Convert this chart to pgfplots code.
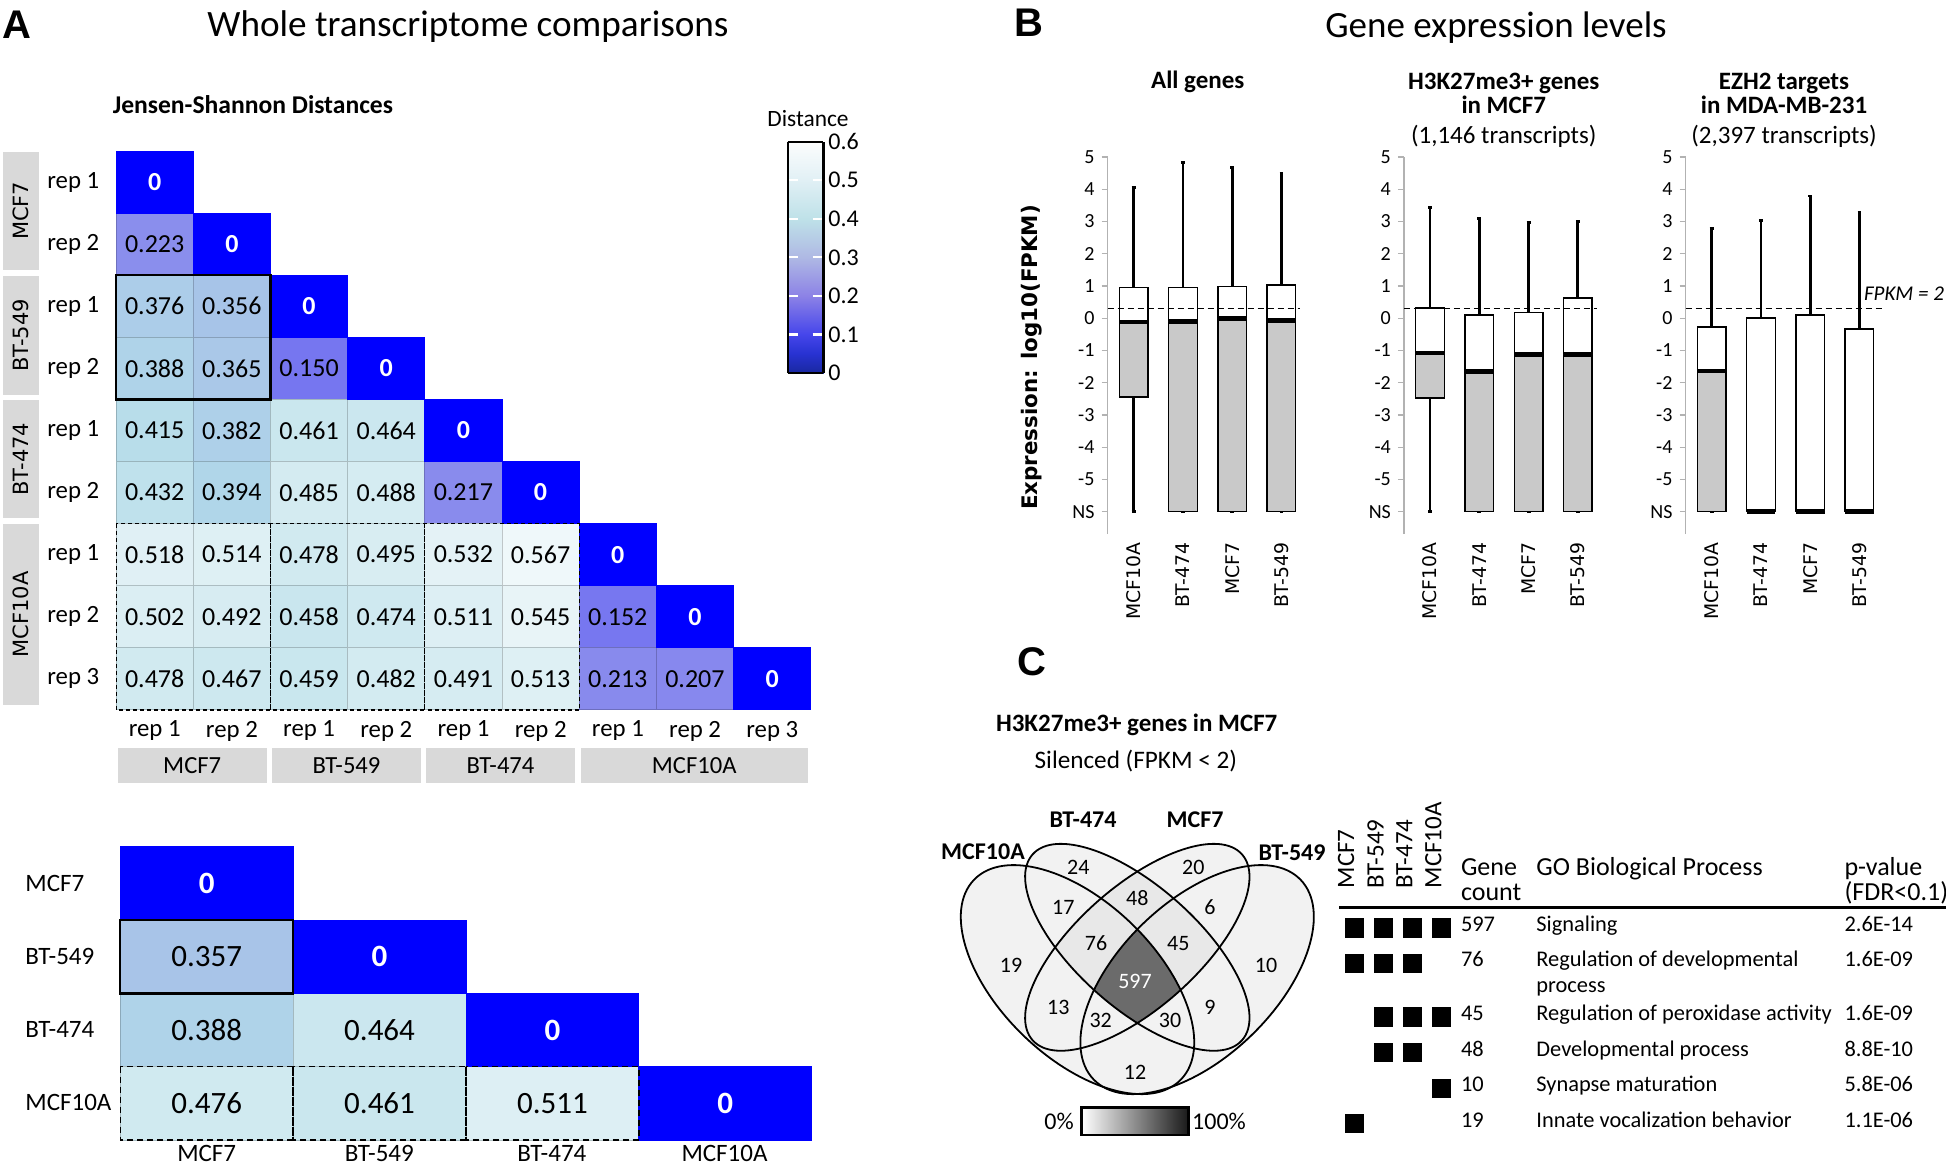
\documentclass[border=0pt]{standalone}
\usepackage{fontspec}
\setmainfont{Carlito}
\newfontfamily\dejavu{DejaVu Sans}
\newfontfamily\arialfont{Liberation Sans}
\usepackage{pgfplots}
\usepackage{pgfplotstable}
\pgfplotsset{compat=1.18}
\usepgfplotslibrary{statistics}
\newcommand{\fs}[1]{\fontsize{#1}{#1}\selectfont}

% Jensen-Shannon distances, replicates (column, row, value)
\pgfplotstableread{
c r v
1 2 0.223
1 3 0.376
2 3 0.356
1 4 0.388
2 4 0.365
3 4 0.150
1 5 0.415
2 5 0.382
3 5 0.461
4 5 0.464
1 6 0.432
2 6 0.394
3 6 0.485
4 6 0.488
5 6 0.217
1 7 0.518
2 7 0.514
3 7 0.478
4 7 0.495
5 7 0.532
6 7 0.567
1 8 0.502
2 8 0.492
3 8 0.458
4 8 0.474
5 8 0.511
6 8 0.545
7 8 0.152
1 9 0.478
2 9 0.467
3 9 0.459
4 9 0.482
5 9 0.491
6 9 0.513
7 9 0.213
8 9 0.207
}\hmrep
% cell lines
\pgfplotstableread{
c r v
1 2 0.357
1 3 0.388
2 3 0.464
1 4 0.476
2 4 0.461
3 4 0.511
}\hmcell

\pgfplotsset{
  colormap={cellmap}{rgb255=(0,0,255) rgb255=(39,39,250) rgb255=(79,79,245) rgb255=(118,118,240)
    rgb255=(133,133,238) rgb255=(144,152,236) rgb255=(155,170,234) rgb255=(166,193,232)
    rgb255=(178,217,233) rgb255=(198,229,237) rgb255=(218,238,243) rgb255=(234,245,248)
    rgb255=(250,253,253)},
  colormap={barmap}{rgb255(0pt)=(25,40,160); rgb255(50pt)=(40,50,210); rgb255(100pt)=(70,70,235);
    rgb255(200pt)=(140,130,230); rgb255(300pt)=(175,185,228); rgb255(400pt)=(190,225,232);
    rgb255(500pt)=(225,240,245); rgb255(600pt)=(252,253,253)},
  boxax/.style={anchor=north west, scale only axis, width=99.3pt, height=188.6pt,
    xmin=0.47, xmax=4.5, ymin=-6.7, ymax=5, axis lines*=left,
    x axis line style={draw=none}, y axis line style={draw=black!30, line width=0.8pt},
    ytick={-6,-5,-4,-3,-2,-1,0,1,2,3,4,5}, yticklabels={NS,-5,-4,-3,-2,-1,0,1,2,3,4,5},
    xtick={1,2,3,4}, xticklabels={MCF10A,BT-474,MCF7,BT-549},
    xticklabel style={rotate=90, anchor=east, font=\dejavu\fs{9.4}, inner sep=1pt},
    yticklabel style={font=\fs{10}},
    xtick style={draw=none}, ytick style={draw=black!30, line width=0.6pt},
    tick align=outside, major tick length=3pt, clip=false},
}
% one box: position, Q1, median, Q3, upper whisker, lower whisker
\newcommand{\bx}[6]{%
  \addplot[boxplot prepared={draw direction=y, draw position=#1, lower whisker=#6, lower quartile=#2,
      median=#3, upper quartile=#4, upper whisker=#5, box extend=0.58, whisker extend=0.08},
    draw=black, fill=white, line width=0.7pt,
    boxplot/every whisker/.style={line width=1.4pt},
    boxplot/every median/.style={line width=2.4pt}] coordinates {};
  \addplot[boxplot prepared={draw direction=y, draw position=#1, lower whisker=#2, lower quartile=#2,
      median=#3, upper quartile=#3, upper whisker=#3, box extend=0.58, whisker extend=0},
    draw=black, fill=gray!42, line width=0.7pt,
    boxplot/every median/.style={line width=2.4pt}] coordinates {};
}
\tikzset{T/.style={inner sep=0pt}}

\begin{document}
\begin{tikzpicture}
\useasboundingbox (0pt,0pt) rectangle (973pt,-583pt);

% ---------- heatmap, replicates ----------
\begin{axis}[at={(58.05pt,-75.5pt)}, anchor=north west, scale only axis,
  width=347.3pt, height=279.45pt, xmin=0.5, xmax=9.5, ymin=0.5, ymax=9.5,
  y dir=reverse, hide axis, clip=false, colormap name=cellmap,
  point meta min=0, point meta max=0.6]
\addplot[scatter, only marks, mark=square*, mark size=15.525pt,
  mark options={xscale=1.2432, line width=0.4pt},
  point meta=\thisrow{v}] table[x=c, y=r] {\hmrep};
\addplot[only marks, mark=square*, mark size=15.525pt,
  mark options={xscale=1.2432, line width=0.4pt, draw=blue, fill=blue}]
  coordinates {(1,1) (2,2) (3,3) (4,4) (5,5) (6,6) (7,7) (8,8) (9,9)};
\addplot[draw=none, mark=none, point meta=\thisrow{v},
  nodes near coords={\pgfmathprintnumber[fixed,fixed zerofill,precision=3,assume math mode=true]{\pgfplotspointmeta}},
  every node near coord/.append style={anchor=center, text=black, font=\fs{13}}]
  table[x=c, y=r] {\hmrep};
\addplot[draw=none, mark=none, nodes near coords={0},
  every node near coord/.append style={anchor=center, text=white, font=\bfseries\fs{13}}]
  coordinates {(1,1) (2,2) (3,3) (4,4) (5,5) (6,6) (7,7) (8,8) (9,9)};
\end{axis}

% ---------- colour bar ----------
\begin{axis}[at={(393.85pt,-70.85pt)}, anchor=north west, scale only axis,
  width=17.8pt, height=115.65pt, view={0}{90},
  xmin=0, xmax=1, ymin=0, ymax=0.6, colormap name=barmap,
  point meta min=0, point meta max=0.6,
  xtick=\empty, ytick={0,0.1,0.2,0.3,0.4,0.5,0.6},
  yticklabels={0,0.1,0.2,0.3,0.4,0.5,0.6}, yticklabel pos=right,
  yticklabel style={font=\fs{12}, xshift=-1pt}, major tick length=0pt,
  axis line style={line width=1.2pt}, clip=false]
\addplot3[surf, shader=interp, mesh/rows=7, mesh/cols=2] coordinates {
(0,0,0) (1,0,0) (0,0.1,0.1) (1,0.1,0.1) (0,0.2,0.2) (1,0.2,0.2)
(0,0.3,0.3) (1,0.3,0.3) (0,0.4,0.4) (1,0.4,0.4) (0,0.5,0.5) (1,0.5,0.5)
(0,0.6,0.6) (1,0.6,0.6)};
\pgfplotsinvokeforeach{0.1,0.2,0.3,0.4,0.5}{
  \draw[white, line width=1.1pt, dash pattern=on 5.3pt off 7.2pt] (axis cs:0,#1,0.6) -- (axis cs:1,#1,0.6);
}
\end{axis}

% ---------- heatmap, cell lines ----------
\begin{axis}[at={(60.15pt,-423.35pt)}, anchor=north west, scale only axis,
  width=345.7pt, height=146.65pt, xmin=0.5, xmax=4.5, ymin=0.5, ymax=4.5,
  y dir=reverse, hide axis, clip=false, colormap name=cellmap,
  point meta min=0, point meta max=0.6]
\addplot[scatter, only marks, mark=square*, mark size=18.33pt,
  mark options={xscale=2.358, line width=0.4pt},
  point meta=\thisrow{v}] table[x=c, y=r] {\hmcell};
\addplot[only marks, mark=square*, mark size=18.33pt,
  mark options={xscale=2.358, line width=0.4pt, draw=blue, fill=blue}]
  coordinates {(1,1) (2,2) (3,3) (4,4)};
\addplot[draw=none, mark=none, point meta=\thisrow{v},
  nodes near coords={\pgfmathprintnumber[fixed,fixed zerofill,precision=3,assume math mode=true]{\pgfplotspointmeta}},
  every node near coord/.append style={anchor=center, text=black, font=\fs{15.5}}]
  table[x=c, y=r] {\hmcell};
\addplot[draw=none, mark=none, nodes near coords={0},
  every node near coord/.append style={anchor=center, text=white, font=\bfseries\fs{15.5}}]
  coordinates {(1,1) (2,2) (3,3) (4,4)};
\end{axis}

% ---------- panel B box plots ----------
\begin{axis}[boxax, at={(553.75pt,-78.5pt)}]
\bx{1}{-2.44}{-0.12}{0.96}{4.05}{-6}
\bx{2}{-6}{-0.10}{0.96}{4.82}{-6}
\bx{3}{-6}{0.00}{0.99}{4.67}{-6}
\bx{4}{-6}{-0.08}{1.03}{4.48}{-6}
\draw[dash pattern=on 3pt off 2pt, line width=0.7pt] (axis cs:0.47,0.301) -- (axis cs:4.38,0.301);
\end{axis}
\begin{axis}[boxax, at={(701.95pt,-78.5pt)}]
\bx{1}{-2.48}{-1.08}{0.32}{3.43}{-6}
\bx{2}{-6}{-1.65}{0.10}{3.10}{-6}
\bx{3}{-6}{-1.13}{0.17}{2.96}{-6}
\bx{4}{-6}{-1.13}{0.63}{3.00}{-6}
\draw[dash pattern=on 3pt off 2pt, line width=0.7pt] (axis cs:0.47,0.301) -- (axis cs:4.38,0.301);
\end{axis}
\begin{axis}[boxax, at={(842.75pt,-78.5pt)}]
\bx{1}{-6}{-1.64}{-0.27}{2.77}{-6}
\bx{2}{-6}{-6}{0.00}{3.02}{-6}
\bx{3}{-6}{-6}{0.10}{3.79}{-6}
\bx{4}{-6}{-6}{-0.34}{3.28}{-6}
\draw[dash pattern=on 3pt off 2pt, line width=0.7pt] (axis cs:0.47,0.301) -- (axis cs:4.47,0.301);
\end{axis}

\begin{scope}[x=0.5pt, y=-0.5pt]
% ---------- heatmap outlines ----------
\draw[line width=1.1pt] (116.1,275.2) rectangle (270.46,399.4);
\draw[line width=0.6pt, dash pattern=on 2pt off 1.5pt] (116.1,523.6) rectangle (270.46,709.9);
\draw[line width=0.6pt, dash pattern=on 2pt off 1.5pt] (270.46,523.6) rectangle (424.82,709.9);
\draw[line width=0.6pt, dash pattern=on 2pt off 1.5pt] (424.82,523.6) rectangle (579.18,709.9);
\draw[line width=1.1pt] (120.3,920) rectangle (293.15,993.4);
\draw[line width=0.7pt, dash pattern=on 3pt off 2pt] (120.3,1066.7) rectangle (293.15,1140);
\draw[line width=0.7pt, dash pattern=on 3pt off 2pt] (293.15,1066.7) rectangle (466,1140);
\draw[line width=0.7pt, dash pattern=on 3pt off 2pt] (466,1066.7) rectangle (638.85,1140);

% ---------- panel A: labels and boxes ----------
\node[T, anchor=base west, font=\arialfont\bfseries\fs{20}] at (2.6,38.3) {A};
\node[T, anchor=base, font=\fs{18.6}] at (468,36.7) {Whole transcriptome comparisons};
\node[T, anchor=base west, font=\bfseries\fs{12.8}] at (112.4,113.3) {Jensen-Shannon Distances};

\fill[black!15] (2.6,151.7) rectangle (39.2,270);
\fill[black!15] (2.6,276) rectangle (39.2,395);
\fill[black!15] (2.6,400) rectangle (39.2,518.3);
\fill[black!15] (2.6,524) rectangle (39.2,705);
\node[T, rotate=90, font=\dejavu\fs{10.5}] at (21,210.8) {MCF7};
\node[T, rotate=90, font=\dejavu\fs{10.5}] at (21,335.5) {BT-549};
\node[T, rotate=90, font=\dejavu\fs{10.5}] at (21,459.2) {BT-474};
\node[T, rotate=90, font=\dejavu\fs{10.5}] at (21,614.5) {MCF10A};
\foreach \y/\t in {182.05/rep 1,244.15/rep 2,306.25/rep 1,368.35/rep 2,430.45/rep 1,492.55/rep 2,554.65/rep 1,616.75/rep 2,678.85/rep 3}
  \node[T, anchor=west, font=\fs{12.4}] at (47,\y) {\t};
\foreach \x/\t in {154.7/rep 1,231.9/rep 2,309.1/rep 1,386.3/rep 2,463.5/rep 1,540.7/rep 2,617.9/rep 1,695.1/rep 2,772.3/rep 3}
  \node[T, font=\fs{12.4}] at (\x,731) {\t};
\fill[black!15] (117.7,748) rectangle (266.7,783);
\fill[black!15] (272,748) rectangle (421,783);
\fill[black!15] (426,748) rectangle (575,783);
\fill[black!15] (580.5,748) rectangle (808,783);
\node[T, font=\fs{12.3}] at (192.2,766) {MCF7};
\node[T, font=\fs{12.3}] at (346.5,766) {BT-549};
\node[T, font=\fs{12.3}] at (500.5,766) {BT-474};
\node[T, font=\fs{12.3}] at (694.2,766) {MCF10A};
\node[T, anchor=base, font=\fs{11.7}] at (808,126.7) {Distance};
\foreach \y/\t in {883/MCF7,956/BT-549,1029.4/BT-474,1102.7/MCF10A}
  \node[T, anchor=west, font=\fs{12.5}] at (25,\y) {\t};
\foreach \x/\t in {206.7/MCF7,379.3/BT-549,551.9/BT-474,724.5/MCF10A}
  \node[T, font=\fs{12.5}] at (\x,1153) {\t};

% ---------- panel B texts ----------
\node[T, anchor=base west, font=\arialfont\bfseries\fs{20}] at (1014,36.7) {B};
\node[T, anchor=base, font=\fs{18.5}] at (1496,38) {Gene expression levels};
\node[T, anchor=base, font=\bfseries\fs{12.5}] at (1197.7,88.3) {All genes};
\node[T, anchor=base, font=\bfseries\fs{12.5}] at (1503.7,90) {H3K27me3+ genes};
\node[T, anchor=base, font=\bfseries\fs{12.5}] at (1503.7,113.3) {in MCF7};
\node[T, anchor=base, font=\fs{12.5}] at (1503.7,144) {(1,146 transcripts)};
\node[T, anchor=base, font=\bfseries\fs{12.5}] at (1784,90) {EZH2 targets};
\node[T, anchor=base, font=\bfseries\fs{12.5}] at (1784,113.3) {in MDA-MB-231};
\node[T, anchor=base, font=\fs{12.5}] at (1784,144) {(2,397 transcripts)};
\node[T, rotate=90, font=\dejavu\bfseries\fs{10.7}] at (1031.7,357.5) {Expression: log10(FPKM)};
\node[T, font=\itshape\fs{10.5}] at (1904,294) {FPKM = 2};

% ---------- panel C: Venn shapes ----------
\node[T, anchor=base west, font=\arialfont\bfseries\fs{20}] at (1016.7,675) {C};
\node[T, anchor=base, font=\bfseries\fs{12.5}] at (1136.7,731.7) {H3K27me3+ genes in MCF7};
\node[T, anchor=base, font=\fs{12.6}] at (1135.8,768.3) {Silenced (FPKM < 2)};

\fill[black!5] (1077.5,979.6) ellipse [x radius=71.9pt, y radius=38.9pt, rotate=-44];
\fill[black!5] (1197.1,979.6) ellipse [x radius=71.9pt, y radius=38.9pt, rotate=44];
\fill[black!5] (1137.3,947.3) ellipse [x radius=70pt, y radius=30.35pt, rotate=-41.6];
\fill[black!5] (1137.3,947.3) ellipse [x radius=70pt, y radius=30.35pt, rotate=41.6];
\begin{scope}
\clip (1137.3,947.3) ellipse [x radius=70pt, y radius=30.35pt, rotate=-41.6];
\fill[black!9] (1137.3,947.3) ellipse [x radius=70pt, y radius=30.35pt, rotate=41.6];
\end{scope}
\begin{scope}
\clip (1077.5,979.6) ellipse [x radius=71.9pt, y radius=38.9pt, rotate=-44];
\clip (1197.1,979.6) ellipse [x radius=71.9pt, y radius=38.9pt, rotate=44];
\clip (1137.3,947.3) ellipse [x radius=70pt, y radius=30.35pt, rotate=-41.6];
\fill[black!58] (1137.3,947.3) ellipse [x radius=70pt, y radius=30.35pt, rotate=41.6];
\end{scope}
\draw[line width=0.9pt] (1077.5,979.6) ellipse [x radius=71.9pt, y radius=38.9pt, rotate=-44];
\draw[line width=0.9pt] (1197.1,979.6) ellipse [x radius=71.9pt, y radius=38.9pt, rotate=44];
\draw[line width=0.9pt] (1137.3,947.3) ellipse [x radius=70pt, y radius=30.35pt, rotate=-41.6];
\draw[line width=0.9pt] (1137.3,947.3) ellipse [x radius=70pt, y radius=30.35pt, rotate=41.6];
\node[T, font=\bfseries\fs{12}] at (983,852) {MCF10A};
\node[T, font=\bfseries\fs{12}] at (1083,820) {BT-474};
\node[T, font=\bfseries\fs{12}] at (1195,820) {MCF7};
\node[T, font=\bfseries\fs{12}] at (1292,853) {BT-549};

\shade[left color=white, right color=black!90] (1081.7,1107.3) rectangle (1188.3,1135);
\draw[line width=1.4pt] (1081.7,1107.3) rectangle (1188.3,1135);
\node[T, font=\fs{12}] at (1059,1121.7) {0\%};
\node[T, font=\fs{12}] at (1219,1121.7) {100\%};

% ---------- GO table text ----------
\foreach \x/\t in {1354.1/MCF7,1383.5/BT-549,1412.4/BT-474,1441.3/MCF10A}
  \node[T, rotate=90, anchor=base west, font=\fs{12.5}, xshift=4pt] at (\x,896.7) {\t};
\node[T, anchor=base west, font=\fs{13}] at (1460.6,875) {Gene};
\node[T, anchor=base west, font=\fs{13}] at (1460.6,900) {count};
\node[T, anchor=base west, font=\fs{13}] at (1536,875) {GO Biological Process};
\node[T, anchor=base west, font=\fs{13}] at (1844.1,875) {p-value};
\node[T, anchor=base west, font=\fs{13}] at (1844.1,900) {(FDR<0.1)};
\draw[line width=1.5pt] (1339.3,907.7) -- (1946,907.7);
\foreach \y/\n/\p/\v in {931/597/Signaling/2.6E-14, 966.7/76/Regulation of developmental/1.6E-09,
  1020/45/Regulation of peroxidase activity/1.6E-09, 1056/48/Developmental process/8.8E-10,
  1091.7/10/Synapse maturation/5.8E-06, 1127.7/19/Innate vocalization behavior/1.1E-06}{
  \node[T, anchor=base west, font=\fs{11.2}] at (1460.6,\y) {\n};
  \node[T, anchor=base west, font=\fs{11.2}] at (1536,\y) {\p};
  \node[T, anchor=base west, font=\fs{11.2}] at (1844.1,\y) {\v};
}
\node[T, anchor=base west, font=\fs{11.2}] at (1536,992.7) {process};
\end{scope}

% ---------- data layer in picture coordinates ----------
\begin{axis}[at={(0pt,0pt)}, anchor=north west, x=0.5pt, y=0.5pt, y dir=reverse,
  xmin=0, xmax=1946, ymin=0, ymax=1166, hide axis, clip=false]
\addplot[draw=none, mark=none, nodes near coords, point meta=explicit symbolic,
  every node near coord/.append style={anchor=center, inner sep=0pt, font=\fs{11}}]
  table[x=x, y=y, meta=n] {
x y n
1078.3 867.3 24
1193.3 867.3 20
1063.3 907.3 17
1137.3 898.3 48
1210 907.3 6
1096 943.3 76
1178.3 943.3 45
1011 965 19
1266 965 10
1058.3 1007.3 13
1210 1007.3 9
1100.7 1020.7 32
1170 1020.7 30
1135 1072.7 12
};
\addplot[draw=none, mark=none, nodes near coords, point meta=explicit symbolic,
  every node near coord/.append style={anchor=center, inner sep=0pt, text=white, font=\fs{11}}]
  table[x=x, y=y, meta=n] {
x y n
1135 981.7 597
};
\addplot[only marks, mark=square*, mark size=4.6pt, black] table[x=x, y=y] {
x y
1354.1 927.7
1383.5 927.7
1412.4 927.7
1441.3 927.7
1354.1 963.3
1383.5 963.3
1412.4 963.3
1383.5 1016.7
1412.4 1016.7
1441.3 1016.7
1383.5 1052.3
1412.4 1052.3
1441.3 1088.3
1354.1 1123.3
};
\end{axis}
\end{tikzpicture}
\end{document}
